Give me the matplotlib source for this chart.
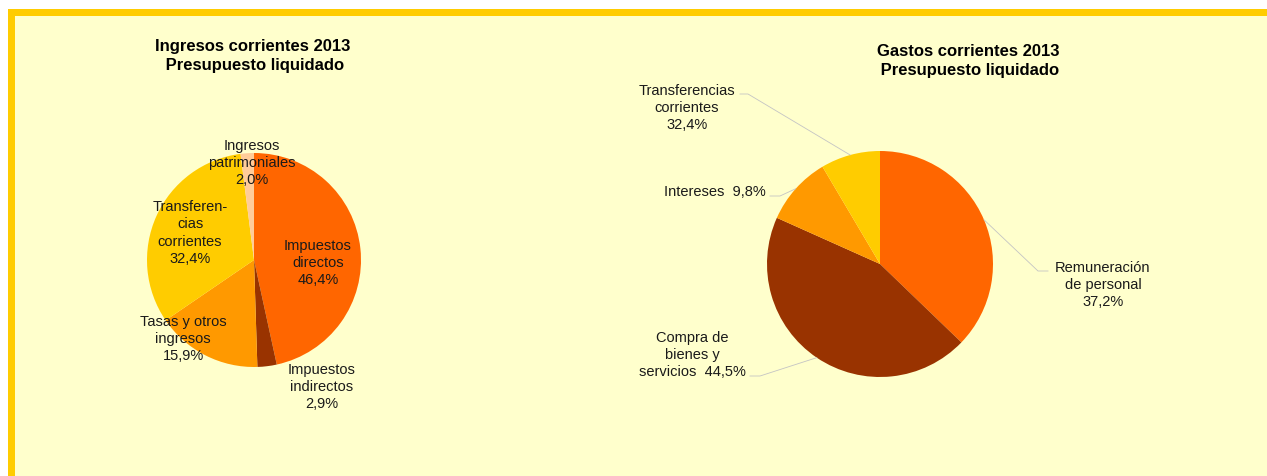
import numpy as np
import matplotlib.pyplot as plt
from matplotlib.patches import Rectangle

plt.rcParams['font.family'] = ['Liberation Sans', 'DejaVu Sans']

W, H = 1267, 477

# ingresos corrientes 2013
ing_labels = ["Impuestos\ndirectos\n46,4%", "Impuestos\nindirectos\n2,9%",
              "Tasas y otros\ningresos\n15,9%", "Transferen-\ncias\ncorrientes\n32,4%",
              "Ingresos\npatrimoniales\n2,0%"]
ing_values = [46.4, 2.9, 15.9, 32.4, 2.0]
ing_colors = ["#FF6600", "#993300", "#FF9900", "#FFCC00", "#FFCC99"]

# gastos corrientes 2013
gas_labels = ["Remuneración\nde personal\n37,2%", "Compra de\nbienes y\nservicios  44,5%",
              "Intereses  9,8%", "Transferencias\ncorrientes\n32,4%"]
gas_values = [37.2, 44.5, 9.8, 8.5]
gas_colors = ["#FF6600", "#993300", "#FF9900", "#FFCC00"]


def Y(py):
    return H - py


fig = plt.figure(figsize=(W / 100, H / 100), dpi=100, facecolor='white')
ax = fig.add_axes([0, 0, 1, 1])
ax.set_axis_off()

# frame
ax.add_patch(Rectangle((8, 0), W - 8, Y(10), facecolor='#FFCC00', edgecolor='none', zorder=0))
ax.add_patch(Rectangle((15, 0), W - 15, Y(17), facecolor='#FFFFCC', edgecolor='none', zorder=0))

# left pie
c1, r1 = (254, Y(261)), 107
ax.pie(ing_values, colors=ing_colors, startangle=90, counterclock=False,
       center=c1, radius=r1, frame=True, wedgeprops=dict(linewidth=0))
ing_pos = [(318, 263), (322, 387), (183, 339), (190, 233), (252, 163)]
for lab, (px, py) in zip(ing_labels, ing_pos):
    ax.text(px, Y(py), lab, ha='center', va='center', fontsize=10.5,
            linespacing=1.3, color='#1a1a1a')

# right pie
c2, r2 = (880, Y(265)), 113
ax.pie(gas_values, colors=gas_colors, startangle=90, counterclock=False,
       center=c2, radius=r2, frame=True, wedgeprops=dict(linewidth=0))

# leader lines from the middle of each wedge to its label
tot = sum(gas_values)
ang0 = 90.0
knees = [[(1038, 272), (1048, 272)], [(760, 377), (750, 377)],
         [(780, 197), (770, 197)], [(748, 95), (740, 95)]]
for v, kn in zip(gas_values, knees):
    mid = np.deg2rad(ang0 - v / tot * 360 / 2)
    ang0 -= v / tot * 360
    ex = c2[0] + r2 * np.cos(mid)
    ey = c2[1] + r2 * np.sin(mid)
    xs = [ex] + [k[0] for k in kn]
    ys = [ey] + [Y(k[1]) for k in kn]
    ax.plot(xs, ys, color='#C4C4C4', lw=0.6, zorder=3)

gas_pos = [(1103, 285, 'center'), (692, 355, 'center'), (715, 192, 'center'),
           (687, 108, 'center')]
for lab, (px, py, ha) in zip(gas_labels, gas_pos):
    ax.text(px, Y(py), lab, ha=ha, va='center', fontsize=10.5,
            linespacing=1.3, color='#1a1a1a')

# titles
ax.text(253, Y(56), "Ingresos corrientes 2013\n Presupuesto liquidado", ha='center',
        va='center', fontsize=12, fontweight='bold', linespacing=1.35)
ax.text(968, Y(61), "Gastos corrientes 2013\n Presupuesto liquidado", ha='center',
        va='center', fontsize=12, fontweight='bold', linespacing=1.35)

ax.set_xlim(0, W)
ax.set_ylim(0, H)
ax.set_aspect('auto')

fig.savefig('out.png', dpi=100, facecolor='white')
